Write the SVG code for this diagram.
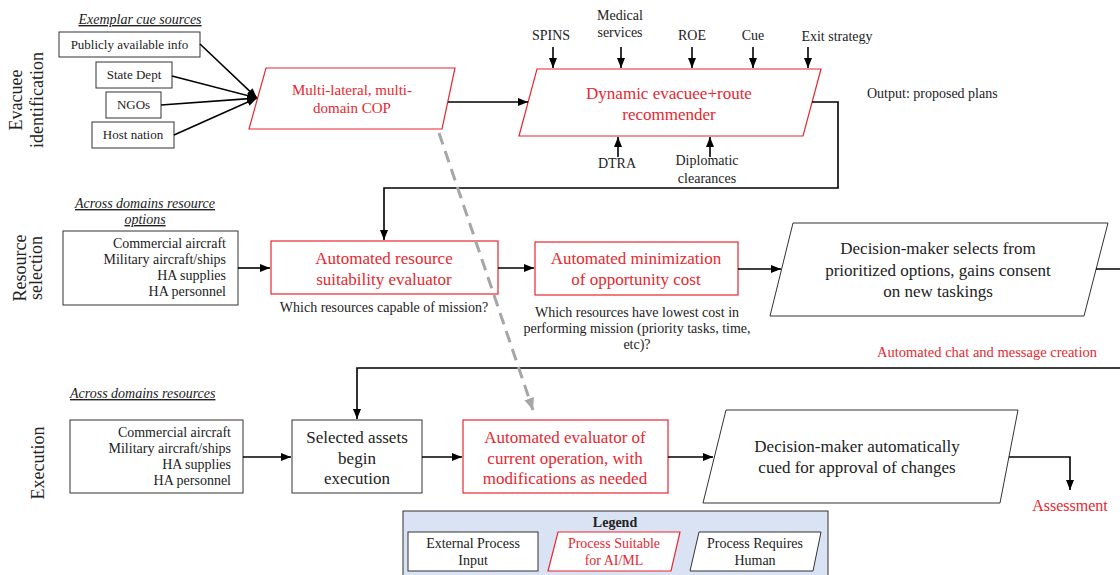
<svg xmlns="http://www.w3.org/2000/svg" width="1120" height="575" viewBox="0 0 1120 575" font-family="'Liberation Serif', 'Times New Roman', 'DejaVu Serif', serif">
<defs>
<marker id="ah" markerUnits="userSpaceOnUse" markerWidth="10" markerHeight="8" refX="10" refY="4" orient="auto"><path d="M0,0 L10,4 L0,8 z" fill="#000"/></marker>
<marker id="ahg" markerUnits="userSpaceOnUse" markerWidth="12" markerHeight="10" refX="12" refY="5" orient="auto"><path d="M0,0 L12,5 L0,10 z" fill="#a6a6a6"/></marker>
<style>
text{font-family:'Liberation Serif','Times New Roman','DejaVu Serif',serif;fill:#222}
.s13{font-size:13px}
.s14{font-size:14px}
.s15{font-size:15px}
.s17{font-size:17px}
.s18{font-size:18px}
.m{text-anchor:middle}
.e{text-anchor:end}
.red{fill:#e8272f}
.ttl{font-style:italic;font-size:14px;text-decoration:underline}
.bx{fill:#fff;stroke:#333;stroke-width:1}
.rbx{fill:#fff;stroke:#e8272f;stroke-width:1.2}
.ln{fill:none;stroke:#000;stroke-width:1.6}
</style>
</defs>

<g id="labels">
<text class="s18 m" transform="translate(22,100) rotate(-90)">Evacuee</text>
<text class="s18 m" transform="translate(43,100) rotate(-90)">identification</text>
<text class="s18 m" transform="translate(26,268) rotate(-90)">Resource</text>
<text class="s18 m" transform="translate(42,268) rotate(-90)">selection</text>
<text class="s18 m" transform="translate(44,463) rotate(-90)">Execution</text>
<text class="ttl m" x="140" y="24">Exemplar cue sources</text>
<text class="ttl m" x="145" y="208">Across domains resource</text>
<text class="ttl m" x="145" y="224">options</text>
<text class="ttl" x="70" y="398">Across domains resources</text>
<text class="s14" x="867" y="98">Output: proposed plans</text>
<text class="s14 m" x="384" y="312">Which resources capable of mission?</text>
<text class="s14 m" x="637" y="317">Which resources have lowest cost in</text>
<text class="s14 m" x="637" y="333">performing mission (priority tasks, time,</text>
<text class="s14 m" x="637" y="349">etc)?</text>
<text class="s14 m red" x="987" y="357" style="font-size:14.5px">Automated chat and message creation</text>
<text class="m red" x="1070" y="511" style="font-size:16px">Assessment</text>
<text class="s14 m" x="551" y="40">SPINS</text>
<text class="s14 m" x="620" y="20">Medical</text>
<text class="s14 m" x="620" y="37">services</text>
<text class="s14 m" x="692" y="40">ROE</text>
<text class="s14 m" x="753" y="40">Cue</text>
<text class="s14 m" x="837" y="41">Exit strategy</text>
<text class="s14 m" x="617" y="168">DTRA</text>
<text class="s14 m" x="707" y="165">Diplomatic</text>
<text class="s14 m" x="707" y="183">clearances</text>
</g>

<g id="src-public"><rect class="bx" x="59" y="32" width="141" height="25"/><text class="s13 m" x="129.5" y="49">Publicly available info</text></g>
<g id="src-state"><rect class="bx" x="96" y="62" width="76" height="26"/><text class="s13 m" x="134" y="79">State Dept</text></g>
<g id="src-ngo"><rect class="bx" x="106" y="92" width="55" height="26"/><text class="s13 m" x="133.5" y="109">NGOs</text></g>
<g id="src-host"><rect class="bx" x="92" y="122" width="82" height="26"/><text class="s13 m" x="133" y="139">Host nation</text></g>

<g id="cop"><polygon class="rbx" points="266,68 455,68 442,129 249,129"/><text class="s15 m red" x="352" y="95">Multi-lateral, multi-</text><text class="s15 m red" x="352" y="113">domain COP</text></g>

<g id="recommender"><polygon class="rbx" points="537,69 821,69 803,136 519,136"/><text class="s17 m red" x="669" y="99">Dynamic evacuee+route</text><text class="s17 m red" x="669" y="120">recommender</text></g>

<g id="res-options"><rect class="bx" x="63" y="231" width="175" height="74"/>
<text class="s14 e" x="226" y="248">Commercial aircraft</text><text class="s14 e" x="226" y="264">Military aircraft/ships</text><text class="s14 e" x="226" y="280">HA supplies</text><text class="s14 e" x="226" y="296">HA personnel</text></g>

<g id="suitability"><rect class="rbx" x="271" y="241" width="227" height="53"/><text class="s17 m red" x="384" y="264">Automated resource</text><text class="s17 m red" x="384" y="285">suitability evaluator</text></g>

<g id="minimization"><rect class="rbx" x="535" y="242" width="203" height="53"/><text class="s17 m red" x="636" y="264">Automated minimization</text><text class="s17 m red" x="636" y="285">of opportunity cost</text></g>

<g id="decision-select"><polygon class="bx" points="793,223 1108,223 1084,316 770,316"/><text class="s17 m" x="938" y="254">Decision-maker selects from</text><text class="s17 m" x="938" y="276">prioritized options, gains consent</text><text class="s17 m" x="938" y="297">on new taskings</text></g>

<g id="exec-resources"><rect class="bx" x="70" y="420" width="173" height="73"/>
<text class="s14 e" x="231" y="437">Commercial aircraft</text><text class="s14 e" x="231" y="453">Military aircraft/ships</text><text class="s14 e" x="231" y="469">HA supplies</text><text class="s14 e" x="231" y="485">HA personnel</text></g>

<g id="selected-assets"><rect class="bx" x="292" y="420" width="130" height="73"/><text class="s17 m" x="357" y="443">Selected assets</text><text class="s17 m" x="357" y="464">begin</text><text class="s17 m" x="357" y="484">execution</text></g>

<g id="evaluator"><rect class="rbx" x="463" y="420" width="205" height="73"/><text class="s17 m red" x="565" y="443">Automated evaluator of</text><text class="s17 m red" x="565" y="464">current operation, with</text><text class="s17 m red" x="565" y="484">modifications as needed</text></g>

<g id="decision-approve"><polygon class="bx" points="726,410 1018,410 1000,503 703,503"/><text class="s17 m" x="857" y="452">Decision-maker automatically</text><text class="s17 m" x="857" y="473">cued for approval of changes</text></g>

<g id="legend">
<rect x="403" y="511" width="425" height="72" fill="#dae3f3" stroke="#333" stroke-width="1"/>
<text class="s14 m" x="615" y="527" style="font-weight:bold">Legend</text>
<rect class="bx" x="408" y="532" width="130" height="39"/>
<text class="s14 m" x="473" y="548">External Process</text><text class="s14 m" x="473" y="565">Input</text>
<polygon class="rbx" points="558,532 680,532 671,571 548,571"/>
<text class="s14 m red" x="614" y="548">Process Suitable</text><text class="s14 m red" x="614" y="565">for AI/ML</text>
<polygon class="bx" points="699,532 821,532 813,571 690,571"/>
<text class="s14 m" x="755" y="548">Process Requires</text><text class="s14 m" x="755" y="565">Human</text>
</g>

<g id="connectors">
<line class="ln" x1="200" y1="44" x2="257" y2="98" marker-end="url(#ah)"/>
<line class="ln" x1="172" y1="76" x2="257" y2="98" marker-end="url(#ah)"/>
<line class="ln" x1="161" y1="105" x2="257" y2="98" marker-end="url(#ah)"/>
<line class="ln" x1="174" y1="135" x2="257" y2="98" marker-end="url(#ah)"/>
<line class="ln" x1="448" y1="102" x2="528" y2="102" marker-end="url(#ah)"/>
<line class="ln" x1="553" y1="47" x2="553" y2="68" marker-end="url(#ah)"/>
<line class="ln" x1="621" y1="47" x2="621" y2="68" marker-end="url(#ah)"/>
<line class="ln" x1="692" y1="47" x2="692" y2="68" marker-end="url(#ah)"/>
<line class="ln" x1="753" y1="47" x2="753" y2="68" marker-end="url(#ah)"/>
<line class="ln" x1="808" y1="47" x2="808" y2="68" marker-end="url(#ah)"/>
<line class="ln" x1="618" y1="157" x2="618" y2="137" marker-end="url(#ah)"/>
<line class="ln" x1="710" y1="157" x2="710" y2="137" marker-end="url(#ah)"/>
<path class="ln" d="M812,102 H838 V188 H384 V240" marker-end="url(#ah)"/>
<line class="ln" x1="238" y1="268" x2="270" y2="268" marker-end="url(#ah)"/>
<line class="ln" x1="498" y1="268" x2="534" y2="268" marker-end="url(#ah)"/>
<line class="ln" x1="738" y1="269" x2="781" y2="269" marker-end="url(#ah)"/>
<path class="ln" d="M1096,269 H1126 V368 H357 V419" marker-end="url(#ah)"/>
<line class="ln" x1="243" y1="457" x2="291" y2="457" marker-end="url(#ah)"/>
<line class="ln" x1="422" y1="457" x2="462" y2="457" marker-end="url(#ah)"/>
<line class="ln" x1="668" y1="457" x2="713" y2="457" marker-end="url(#ah)"/>
<path class="ln" d="M1009,457 H1070 V490" marker-end="url(#ah)"/>
<line x1="439" y1="133" x2="533" y2="410" stroke="#a6a6a6" stroke-width="3" stroke-dasharray="12 7" marker-end="url(#ahg)"/>
</g>
</svg>
